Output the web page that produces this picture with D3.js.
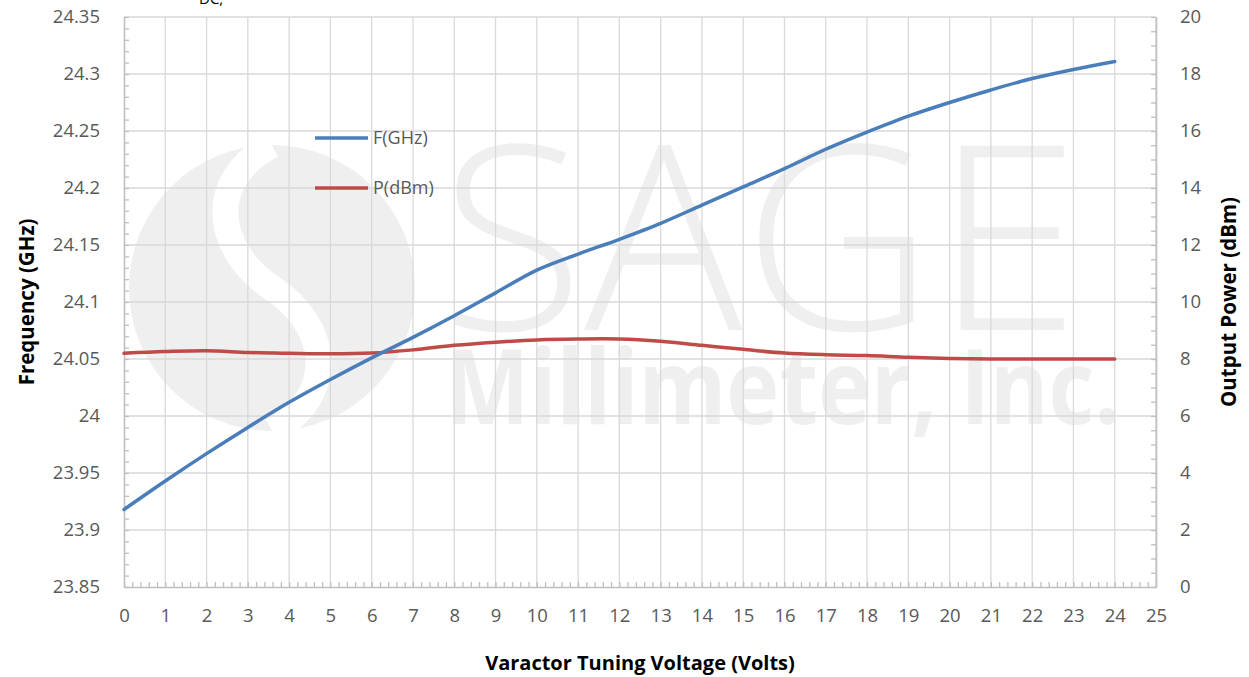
<!DOCTYPE html>
<html>
<head>
<meta charset="utf-8">
<script src="https://cdn.jsdelivr.net/npm/d3@7"></script>
<style>
  body { margin: 0; background: #fff; }
  text { font-family: "Open Sans", "Liberation Sans", sans-serif; }
</style>
</head>
<body>
<svg id="chart" width="1249" height="677"></svg>
<script>
// voltage points
var volts = [0,1,2,3,4,5,6,7,8,9,10,11,12,13,14,15,16,17,18,19,20,21,22,23,24];
// frequency, GHz
var freq = [23.918,23.943,23.967,23.990,24.012,24.032,24.051,24.069,24.088,24.108,24.128,24.142,24.155,24.169,24.185,24.201,24.217,24.234,24.249,24.263,24.275,24.286,24.296,24.304,24.311];
// output power, dBm
var power = [8.20,8.26,8.29,8.23,8.20,8.18,8.21,8.32,8.48,8.59,8.67,8.70,8.70,8.62,8.48,8.34,8.21,8.15,8.12,8.06,8.02,8.00,8.00,8.00,8.00];
var xTicks = d3.range(0, 26);
var leftTicks = [23.85,23.9,23.95,24,24.05,24.1,24.15,24.2,24.25,24.3,24.35];
var rightTicks = [0,2,4,6,8,10,12,14,16,18,20];
var seriesNames = ["F(GHz)", "P(dBm)"];

var svg = d3.select("#chart");
var plotL = 124, plotR = 1156, plotT = 17, plotB = 587;

var x = d3.scaleLinear().domain([0, 25]).range([plotL, plotR]);
var yF = d3.scaleLinear().domain([23.85, 24.35]).range([plotB, plotT]);
var yP = d3.scaleLinear().domain([0, 20]).range([plotB, plotT]);

var gridColor = "#d9d9d9", axisColor = "#bfbfbf", labelColor = "#595959";
var wm = "#efefef";

// watermark
var w = svg.append("g");
w.append("circle").attr("cx", 272).attr("cy", 288).attr("r", 143).attr("fill", wm);
w.append("path")
  .attr("d", "M272,145 C205,180 215,250 272,288 C330,326 338,396 272,431")
  .attr("fill", "none").attr("stroke", "#fff").attr("stroke-width", 26);
w.append("text").attr("x", 440).attr("y", 330).attr("font-size", 258)
  .attr("font-weight", 300).attr("fill", wm).attr("textLength", 640)
  .attr("lengthAdjust", "spacingAndGlyphs").text("SAGE");
w.append("text").attr("x", 445).attr("y", 424).attr("font-size", 104)
  .attr("font-weight", 700).attr("fill", wm).attr("textLength", 675)
  .attr("lengthAdjust", "spacingAndGlyphs").text("Millimeter, Inc.");

// grid
svg.append("g").selectAll("line").data(xTicks.slice(1)).enter().append("line")
  .attr("x1", function(d) { return x(d); }).attr("x2", function(d) { return x(d); })
  .attr("y1", plotT).attr("y2", plotB)
  .attr("stroke", gridColor).attr("stroke-width", 1.3);
svg.append("g").selectAll("line").data(leftTicks.slice(1)).enter().append("line")
  .attr("x1", plotL).attr("x2", plotR)
  .attr("y1", function(d) { return yF(d); }).attr("y2", function(d) { return yF(d); })
  .attr("stroke", gridColor).attr("stroke-width", 1.3);

function styleAxis(g) {
  g.select(".domain").attr("stroke", axisColor).attr("stroke-width", 1.6);
  g.selectAll(".tick line").attr("stroke", axisColor).attr("stroke-width", 1.3);
  g.selectAll(".tick text").attr("fill", labelColor).attr("font-size", 18.5)
    .attr("font-family", "Open Sans, sans-serif");
}
function styleMinor(g) {
  g.select(".domain").remove();
  g.selectAll(".tick text").remove();
  g.selectAll("line").attr("stroke", axisColor).attr("stroke-width", 1.3);
}

// minor ticks
svg.append("g").attr("transform", "translate(0," + plotB + ")")
  .call(d3.axisTop(x).ticks(125).tickSize(5)).call(styleMinor);
svg.append("g").attr("transform", "translate(" + plotL + ",0)")
  .call(d3.axisRight(yF).ticks(50).tickSize(5)).call(styleMinor);
svg.append("g").attr("transform", "translate(" + plotR + ",0)")
  .call(d3.axisLeft(yP).ticks(50).tickSize(5)).call(styleMinor);

// main axes
svg.append("g").attr("transform", "translate(0," + plotB + ")")
  .call(d3.axisBottom(x).tickValues(xTicks).tickSize(0).tickPadding(22).tickSizeOuter(0))
  .call(styleAxis);
svg.append("g").attr("transform", "translate(" + plotL + ",0)")
  .call(d3.axisLeft(yF).tickValues(leftTicks).tickSize(0).tickPadding(24).tickSizeOuter(0)
    .tickFormat(function(d) { return String(+d.toFixed(2)); }))
  .call(styleAxis);
svg.append("g").attr("transform", "translate(" + plotR + ",0)")
  .call(d3.axisRight(yP).tickValues(rightTicks).tickSize(0).tickPadding(24).tickSizeOuter(0))
  .call(styleAxis);

// lines
var lineF = d3.line().x(function(d, i) { return x(volts[i]); }).y(function(d) { return yF(d); }).curve(d3.curveCatmullRom.alpha(0.5));
var lineP = d3.line().x(function(d, i) { return x(volts[i]); }).y(function(d) { return yP(d); }).curve(d3.curveCatmullRom.alpha(0.5));
var colors = ["#4a7ebb", "#be4b48"];

svg.append("path").datum(power).attr("d", lineP).attr("fill", "none")
  .attr("stroke", colors[1]).attr("stroke-width", 3.5).attr("stroke-linecap", "round");
svg.append("path").datum(freq).attr("d", lineF).attr("fill", "none")
  .attr("stroke", colors[0]).attr("stroke-width", 3.5).attr("stroke-linecap", "round");

// legend
var leg = svg.append("g").selectAll("g").data(seriesNames).enter().append("g")
  .attr("transform", function(d, i) { return "translate(315," + (138 + i * 50) + ")"; });
leg.append("line").attr("x1", 0).attr("x2", 53).attr("stroke", function(d, i) { return colors[i]; })
  .attr("stroke-width", 3.5);
leg.append("text").attr("x", 58).attr("dy", "0.35em").attr("font-size", 18)
  .attr("fill", labelColor).text(function(d) { return d; });

// titles
svg.append("text").attr("x", 640).attr("y", 670).attr("text-anchor", "middle")
  .attr("font-size", 20).attr("font-weight", 700).attr("fill", "#000")
  .text("Varactor Tuning Voltage (Volts)");
svg.append("text").attr("transform", "translate(34,302) rotate(-90)").attr("text-anchor", "middle")
  .attr("font-size", 20.5).attr("font-weight", 700).attr("fill", "#000")
  .text("Frequency (GHz)");
svg.append("text").attr("transform", "translate(1236,302) rotate(-90)").attr("text-anchor", "middle")
  .attr("font-size", 20.5).attr("font-weight", 700).attr("fill", "#000")
  .text("Output Power (dBm)");
// cut-off fragment of the title above
svg.append("text").attr("x", 199).attr("y", 4).attr("font-size", 15).attr("fill", "#000").text("DC,");
</script>
</body>
</html>
